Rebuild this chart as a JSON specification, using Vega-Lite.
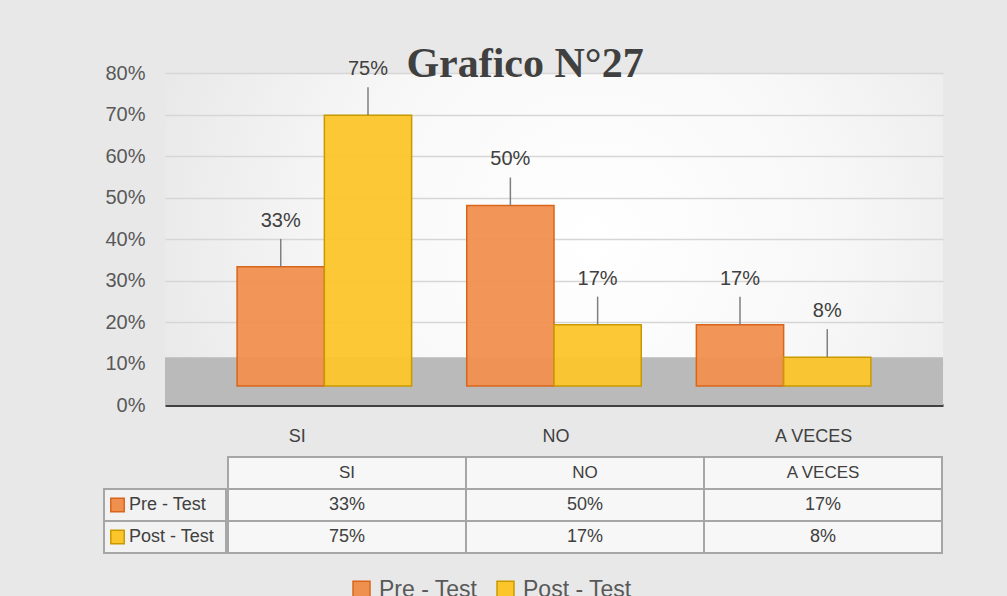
{
  "$schema": "https://vega.github.io/schema/vega-lite/v6.json",
  "background": "#e8e8e8",
  "padding": {"left": 103, "top": 43, "right": 66, "bottom": 0},
  "datasets": {
    "main": [
      {"categoria": "SI", "serie": "Pre - Test", "valor": 0.33},
      {"categoria": "NO", "serie": "Pre - Test", "valor": 0.50},
      {"categoria": "A VECES", "serie": "Pre - Test", "valor": 0.17},
      {"categoria": "SI", "serie": "Post - Test", "valor": 0.75},
      {"categoria": "NO", "serie": "Post - Test", "valor": 0.17},
      {"categoria": "A VECES", "serie": "Post - Test", "valor": 0.08}
    ],
    "cats": [
      {"categoria": "SI"},
      {"categoria": "NO"},
      {"categoria": "A VECES"}
    ],
    "series": [
      {"serie": "Pre - Test"},
      {"serie": "Post - Test"}
    ],
    "one": [{"k": 1}]
  },
  "spacing": 11,
  "vconcat": [
    {
      "spacing": 0,
      "hconcat": [
        {
          "width": 61,
          "height": 332,
          "data": {"name": "one"},
          "mark": {"type": "rule", "opacity": 0},
          "encoding": {
            "y": {
              "datum": 0,
              "type": "quantitative",
              "scale": {"domain": [0, 0.8], "nice": false, "zero": false},
              "axis": {
                "offset": -61,
                "values": [0, 0.1, 0.2, 0.3, 0.4, 0.5, 0.6, 0.7, 0.8],
                "format": ".0%",
                "title": null,
                "ticks": false,
                "domain": false,
                "grid": false,
                "labelFontSize": 20,
                "labelColor": "#595959",
                "labelPadding": 20,
                "labelFont": "Liberation Sans"
              }
            }
          }
        },
        {
          "width": 778,
          "height": 332,
          "view": {
            "stroke": null,
            "fill": {
              "gradient": "radial",
              "x1": 0.55, "y1": 0.5, "r1": 0,
              "x2": 0.55, "y2": 0.5, "r2": 0.6,
              "stops": [
                {"offset": 0, "color": "#ffffff"},
                {"offset": 0.5, "color": "#f8f8f8"},
                {"offset": 1, "color": "#e8e8e8"}
              ]
            }
          },
          "title": {
            "text": "Grafico N°27",
            "font": "Liberation Serif",
            "fontSize": 42,
            "fontWeight": "bold",
            "color": "#404040",
            "anchor": "middle",
            "baseline": "alphabetic",
            "offset": -60,
            "dx": -29
          },
          "resolve": {"scale": {"y": "independent"}},
          "layer": [
            {
              "data": {"name": "one"},
              "mark": {"type": "rect", "color": "#bababa"},
              "encoding": {
                "y": {
                  "datum": 0,
                  "type": "quantitative",
                  "scale": {"domain": [0, 0.8], "nice": false, "zero": false},
                  "axis": {
                    "values": [0, 0.1, 0.2, 0.3, 0.4, 0.5, 0.6, 0.7, 0.8],
                    "title": null,
                    "ticks": false,
                    "domain": false,
                    "labels": false,
                    "grid": true,
                    "gridColor": "#d6d6d6",
                    "gridWidth": 1.5
                  }
                },
                "y2": {"datum": 0.115}
              }
            },
            {
              "data": {"name": "main"},
              "mark": {"type": "bar", "strokeWidth": 1.5, "fillOpacity": 0.95},
              "encoding": {
                "x": {
                  "field": "categoria",
                  "type": "nominal",
                  "sort": ["SI", "NO", "A VECES"],
                  "scale": {"paddingInner": 0.24, "paddingOuter": 0.314},
                  "axis": {
                    "title": null,
                    "labelAngle": 0,
                    "ticks": false,
                    "domainColor": "#404040",
                    "domainWidth": 3,
                    "labelFontSize": 18,
                    "labelColor": "#404040",
                    "labelPadding": 22,
                    "labelFont": "Liberation Sans",
                    "labelOffset": {
                      "condition": [
                        {"test": "datum.value === 'SI'", "value": -27},
                        {"test": "datum.value === 'A VECES'", "value": 30}
                      ],
                      "value": 2
                    }
                  }
                },
                "xOffset": {
                  "field": "serie",
                  "type": "nominal",
                  "sort": ["Pre - Test", "Post - Test"],
                  "scale": {"paddingInner": 0, "paddingOuter": 0}
                },
                "y": {
                  "field": "valor",
                  "type": "quantitative",
                  "scale": {"domain": [-0.0526, 0.867], "nice": false, "zero": false},
                  "axis": null
                },
                "y2": {"datum": 0},
                "color": {
                  "field": "serie",
                  "type": "nominal",
                  "sort": ["Pre - Test", "Post - Test"],
                  "scale": {"domain": ["Pre - Test", "Post - Test"], "range": ["#f0904f", "#fcc52a"]},
                  "legend": {
                    "title": null,
                    "orient": "none",
                    "direction": "horizontal",
                    "legendX": 246,
                    "legendY": 505,
                    "symbolType": "square",
                    "symbolSize": 289,
                    "symbolStrokeWidth": 1.5,
                    "labelFontSize": 23,
                    "labelColor": "#595959",
                    "labelFont": "Liberation Sans",
                    "columnPadding": 16,
                    "labelOffset": 6
                  }
                },
                "stroke": {
                  "field": "serie",
                  "type": "nominal",
                  "sort": ["Pre - Test", "Post - Test"],
                  "scale": {"domain": ["Pre - Test", "Post - Test"], "range": ["#d9651a", "#c99a00"]},
                  "legend": null
                }
              }
            },
            {
              "data": {"name": "main"},
              "mark": {"type": "rule", "color": "#7f7f7f", "strokeWidth": 1.5, "y2Offset": -28},
              "encoding": {
                "x": {"field": "categoria", "type": "nominal", "sort": ["SI", "NO", "A VECES"], "bandPosition": 0.5},
                "xOffset": {"field": "serie", "type": "nominal", "sort": ["Pre - Test", "Post - Test"]},
                "y": {
                  "field": "valor",
                  "type": "quantitative",
                  "scale": {"domain": [-0.0526, 0.867], "nice": false, "zero": false},
                  "axis": null
                },
                "y2": {"field": "valor"}
              }
            },
            {
              "data": {"name": "main"},
              "mark": {
                "type": "text",
                "baseline": "middle",
                "dy": -46,
                "fontSize": 20,
                "color": "#404040",
                "font": "Liberation Sans"
              },
              "encoding": {
                "x": {"field": "categoria", "type": "nominal", "sort": ["SI", "NO", "A VECES"]},
                "xOffset": {"field": "serie", "type": "nominal", "sort": ["Pre - Test", "Post - Test"]},
                "y": {
                  "field": "valor",
                  "type": "quantitative",
                  "scale": {"domain": [-0.0526, 0.867], "nice": false, "zero": false},
                  "axis": null
                },
                "text": {"field": "valor", "type": "quantitative", "format": ".0%"}
              }
            }
          ]
        }
      ]
    },
    {
      "spacing": 0,
      "hconcat": [
        {
          "width": 122,
          "height": 96,
          "layer": [
            {
              "data": {"name": "series"},
              "mark": {"type": "rect", "fill": "#f2f2f2", "stroke": "#a6a6a6", "strokeWidth": 2},
              "encoding": {
                "x": {"datum": 0, "type": "quantitative", "scale": {"domain": [0, 1]}, "axis": null},
                "x2": {"datum": 1},
                "y": {
                  "field": "serie",
                  "type": "nominal",
                  "scale": {"domain": ["hdr", "Pre - Test", "Post - Test"], "paddingInner": 0, "paddingOuter": 0},
                  "axis": null
                }
              }
            },
            {
              "data": {"name": "series"},
              "mark": {"type": "point", "shape": "square", "filled": true, "size": 180, "strokeWidth": 1.5, "xOffset": 13.5, "opacity": 1},
              "encoding": {
                "x": {"datum": 0, "type": "quantitative", "scale": {"domain": [0, 1]}, "axis": null},
                "y": {"field": "serie", "type": "nominal", "axis": null},
                "color": {"field": "serie", "type": "nominal"},
                "stroke": {"field": "serie", "type": "nominal", "legend": null}
              }
            },
            {
              "data": {"name": "series"},
              "mark": {
                "type": "text",
                "align": "left",
                "baseline": "middle",
                "dx": 25,
                "fontSize": 18,
                "color": "#404040",
                "font": "Liberation Sans"
              },
              "encoding": {
                "x": {"datum": 0, "type": "quantitative", "scale": {"domain": [0, 1]}, "axis": null},
                "y": {"field": "serie", "type": "nominal", "axis": null},
                "text": {"field": "serie", "type": "nominal"}
              }
            }
          ]
        },
        {
          "width": 714,
          "height": 96,
          "layer": [
            {
              "data": {"name": "main"},
              "mark": {"type": "rect", "fill": "#f7f7f7", "stroke": "#a6a6a6", "strokeWidth": 2},
              "encoding": {
                "x": {
                  "field": "categoria",
                  "type": "nominal",
                  "sort": ["SI", "NO", "A VECES"],
                  "scale": {"paddingInner": 0, "paddingOuter": 0},
                  "axis": null
                },
                "y": {
                  "field": "serie",
                  "type": "nominal",
                  "scale": {"domain": ["hdr", "Pre - Test", "Post - Test"], "paddingInner": 0, "paddingOuter": 0},
                  "axis": null
                }
              }
            },
            {
              "data": {"name": "cats"},
              "mark": {"type": "rect", "fill": "#f7f7f7", "stroke": "#a6a6a6", "strokeWidth": 2},
              "encoding": {
                "x": {"field": "categoria", "type": "nominal", "sort": ["SI", "NO", "A VECES"], "axis": null},
                "y": {"datum": "hdr", "type": "nominal", "axis": null}
              }
            },
            {
              "data": {"name": "main"},
              "mark": {
                "type": "text",
                "baseline": "middle",
                "fontSize": 18,
                "color": "#404040",
                "font": "Liberation Sans"
              },
              "encoding": {
                "x": {"field": "categoria", "type": "nominal", "sort": ["SI", "NO", "A VECES"], "axis": null},
                "y": {"field": "serie", "type": "nominal", "axis": null},
                "text": {"field": "valor", "type": "quantitative", "format": ".0%"}
              }
            },
            {
              "data": {"name": "cats"},
              "mark": {
                "type": "text",
                "baseline": "middle",
                "fontSize": 17,
                "color": "#404040",
                "font": "Liberation Sans"
              },
              "encoding": {
                "x": {"field": "categoria", "type": "nominal", "sort": ["SI", "NO", "A VECES"], "axis": null},
                "y": {"datum": "hdr", "type": "nominal", "axis": null},
                "text": {"field": "categoria", "type": "nominal"}
              }
            }
          ]
        }
      ]
    }
  ],
  "config": {
    "view": {"stroke": null},
    "font": "Liberation Sans"
  }
}
